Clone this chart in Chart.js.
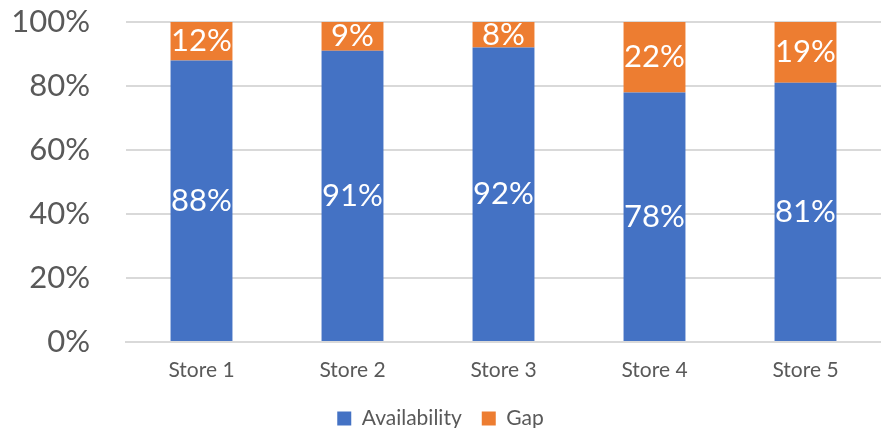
<!DOCTYPE html>
<html>
<head>
<meta charset="utf-8">
<script src="https://cdn.jsdelivr.net/npm/chart.js@4"></script>
<style>
  html, body { margin: 0; padding: 0; background: #fff; }
  #wrap { width: 881px; height: 428px; }
</style>
</head>
<body>
<div id="wrap"><canvas id="chart" width="881" height="428"></canvas></div>
<script>
'use strict';

const stores       = ['Store 1', 'Store 2', 'Store 3', 'Store 4', 'Store 5'];
const availability = [88, 91, 92, 78, 81];
const gap          = [12, 9, 8, 22, 19];

const FONT = 'Lato, "Open Sans", sans-serif';

// 막대 가운데에 값 라벨 그리기
const barLabels = {
  id: 'barLabels',
  afterDatasetsDraw(chart) {
    const { ctx } = chart;
    ctx.save();
    ctx.font = `31px ${FONT}`;
    ctx.fillStyle = '#ffffff';
    ctx.textAlign = 'center';
    ctx.textBaseline = 'middle';
    chart.data.datasets.forEach((ds, di) => {
      chart.getDatasetMeta(di).data.forEach((bar, i) => {
        const { x, y, base } = bar.getProps(['x', 'y', 'base'], true);
        ctx.fillText(ds.data[i] + '%', x, (y + base) / 2);
      });
    });
    ctx.restore();
  },
};

new Chart(document.getElementById('chart'), {
  type: 'bar',
  data: {
    labels: stores,
    datasets: [
      { label: 'Availability', data: availability, backgroundColor: '#4472C4' },
      { label: 'Gap',          data: gap,          backgroundColor: '#ED7D31' },
    ],
  },
  plugins: [barLabels],
  options: {
    responsive: false,
    animation: false,
    layout: { padding: { top: 22, right: 0, left: 0, bottom: -11 } },
    datasets: { bar: { categoryPercentage: 1, barPercentage: 0.41 } },
    plugins: {
      tooltip: { enabled: false },
      legend: {
        position: 'bottom',
        labels: {
          boxWidth: 14,
          boxHeight: 14,
          padding: 20,
          color: '#595959',
          font: { family: FONT, size: 21 },
        },
      },
    },
    scales: {
      x: {
        stacked: true,
        afterFit(scale) { scale.height = 46; },
        grid: { display: false },
        border: { color: '#d9d9d9', width: 2 },
        ticks: { color: '#595959', font: { family: FONT, size: 21 }, padding: 8 },
      },
      y: {
        stacked: true,
        min: 0,
        max: 100,
        afterFit(scale) {
          scale.width = 126;
          scale.paddingTop = 0;
          scale.paddingBottom = 0;
        },
        grid: { color: '#d9d9d9', lineWidth: 2, drawTicks: false },
        border: { display: false },
        ticks: {
          stepSize: 20,
          color: '#595959',
          padding: 36,
          font: { family: FONT, size: 31 },
          callback: v => v + '%',
        },
      },
    },
  },
});
</script>
</body>
</html>
